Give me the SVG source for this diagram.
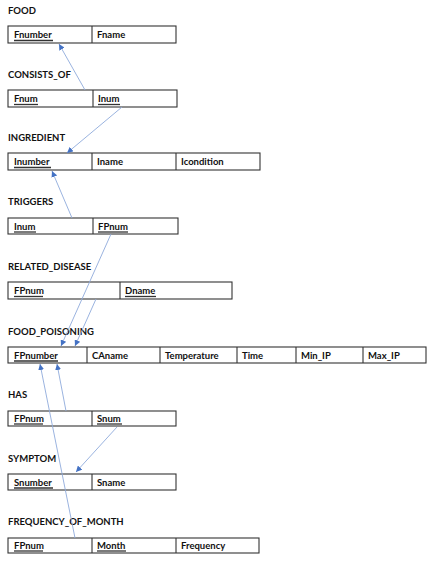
<svg xmlns="http://www.w3.org/2000/svg" width="434" height="563" viewBox="0 0 434 563">
<defs>
<style>
.lbl{font-family:Lato,"Open Sans","Liberation Sans",sans-serif;font-weight:bold;font-size:9.5px;fill:#111}
.t{font-family:Lato,"Open Sans","Liberation Sans",sans-serif;font-weight:bold;font-size:9.5px;fill:#111}
.box{fill:#fff;stroke:#333;stroke-width:1.1}
.div{stroke:#333;stroke-width:1.1}
.ul{stroke:#333;stroke-width:1.3}
.ar{stroke:#8eaadb;stroke-width:0.9;fill:none}
</style>
<marker id="ah" viewBox="0 0 10 10" refX="10" refY="5" markerWidth="6" markerHeight="6" markerUnits="userSpaceOnUse" orient="auto">
<path d="M0,0 L10,5 L0,10 z" fill="#4472c4"/>
</marker>
</defs>
<rect width="434" height="563" fill="#fff"/>

<g id="food">
<text class="lbl" x="8" y="14">FOOD</text>
<rect class="box" x="8" y="26" width="168" height="17"/>
<line class="div" x1="92" y1="26" x2="92" y2="43"/>
<text class="t" x="14" y="38">Fnumber</text><line class="ul" x1="14" y1="40.5" x2="53" y2="40.5"/>
<text class="t" x="97" y="38">Fname</text>
</g>

<g id="consists_of">
<text class="lbl" x="8" y="78">CONSISTS_OF</text>
<rect class="box" x="8" y="90" width="169" height="17"/>
<line class="div" x1="93" y1="90" x2="93" y2="107"/>
<text class="t" x="14" y="102">Fnum</text><line class="ul" x1="14" y1="104.5" x2="38" y2="104.5"/>
<text class="t" x="98" y="102">Inum</text><line class="ul" x1="98" y1="104.5" x2="120" y2="104.5"/>
</g>

<g id="ingredient">
<text class="lbl" x="8" y="141">INGREDIENT</text>
<rect class="box" x="8" y="153" width="252" height="17"/>
<line class="div" x1="92" y1="153" x2="92" y2="170"/>
<line class="div" x1="176" y1="153" x2="176" y2="170"/>
<text class="t" x="14" y="165">Inumber</text><line class="ul" x1="14" y1="167.5" x2="51" y2="167.5"/>
<text class="t" x="97" y="165">Iname</text>
<text class="t" x="181" y="165">Icondition</text>
</g>

<g id="triggers">
<text class="lbl" x="8" y="205">TRIGGERS</text>
<rect class="box" x="8" y="218" width="170" height="16"/>
<line class="div" x1="93" y1="218" x2="93" y2="234"/>
<text class="t" x="14" y="229.5">Inum</text><line class="ul" x1="14" y1="232" x2="36" y2="232"/>
<text class="t" x="98" y="229.5">FPnum</text><line class="ul" x1="98" y1="232" x2="128" y2="232"/>
</g>

<g id="related_disease">
<text class="lbl" x="8" y="270">RELATED_DISEASE</text>
<rect class="box" x="8" y="282" width="224" height="17"/>
<line class="div" x1="120" y1="282" x2="120" y2="299"/>
<text class="t" x="14" y="294">FPnum</text><line class="ul" x1="14" y1="296.5" x2="43" y2="296.5"/>
<text class="t" x="125" y="294">Dname</text><line class="ul" x1="125" y1="296.5" x2="156" y2="296.5"/>
</g>

<g id="food_poisoning">
<text class="lbl" x="8" y="335">FOOD_POISONING</text>
<rect class="box" x="8" y="347" width="418" height="16"/>
<line class="div" x1="87" y1="347" x2="87" y2="363"/>
<line class="div" x1="160" y1="347" x2="160" y2="363"/>
<line class="div" x1="237" y1="347" x2="237" y2="363"/>
<line class="div" x1="296" y1="347" x2="296" y2="363"/>
<line class="div" x1="363" y1="347" x2="363" y2="363"/>
<text class="t" x="14" y="358.5">FPnumber</text><line class="ul" x1="14" y1="361" x2="58" y2="361"/>
<text class="t" x="92" y="358.5">CAname</text>
<text class="t" x="165" y="358.5">Temperature</text>
<text class="t" x="242" y="358.5">Time</text>
<text class="t" x="301" y="358.5">Min_IP</text>
<text class="t" x="368" y="358.5">Max_IP</text>
</g>

<g id="has">
<text class="lbl" x="8" y="398">HAS</text>
<rect class="box" x="8" y="411" width="168" height="15"/>
<line class="div" x1="92" y1="411" x2="92" y2="426"/>
<text class="t" x="14" y="421.5">FPnum</text><line class="ul" x1="14" y1="424" x2="43" y2="424"/>
<text class="t" x="97" y="421.5">Snum</text><line class="ul" x1="97" y1="424" x2="122" y2="424"/>
</g>

<g id="symptom">
<text class="lbl" x="8" y="462">SYMPTOM</text>
<rect class="box" x="8" y="474" width="168" height="16"/>
<line class="div" x1="92" y1="474" x2="92" y2="490"/>
<text class="t" x="14" y="485.5">Snumber</text><line class="ul" x1="14" y1="488" x2="53" y2="488"/>
<text class="t" x="97" y="485.5">Sname</text>
</g>

<g id="frequency_of_month">
<text class="lbl" x="8" y="525">FREQUENCY_OF_MONTH</text>
<rect class="box" x="8" y="538" width="251" height="15"/>
<line class="div" x1="92" y1="538" x2="92" y2="553"/>
<line class="div" x1="176" y1="538" x2="176" y2="553"/>
<text class="t" x="14" y="548.5">FPnum</text><line class="ul" x1="14" y1="551" x2="43" y2="551"/>
<text class="t" x="97" y="548.5">Month</text><line class="ul" x1="97" y1="551" x2="126" y2="551"/>
<text class="t" x="181" y="548.5">Frequency</text>
</g>

<g id="connectors">
<line class="ar" x1="85" y1="90" x2="59" y2="44" marker-end="url(#ah)"/>
<line class="ar" x1="122" y1="107" x2="67" y2="153" marker-end="url(#ah)"/>
<line class="ar" x1="72" y1="218" x2="52" y2="171" marker-end="url(#ah)"/>
<line class="ar" x1="111" y1="234" x2="61" y2="346" marker-end="url(#ah)"/>
<line class="ar" x1="96" y1="299" x2="75" y2="346" marker-end="url(#ah)"/>
<line class="ar" x1="66" y1="411" x2="57" y2="364" marker-end="url(#ah)"/>
<line class="ar" x1="75" y1="538" x2="40" y2="364" marker-end="url(#ah)"/>
<line class="ar" x1="117" y1="427" x2="76" y2="472" marker-end="url(#ah)"/>
</g>
</svg>
